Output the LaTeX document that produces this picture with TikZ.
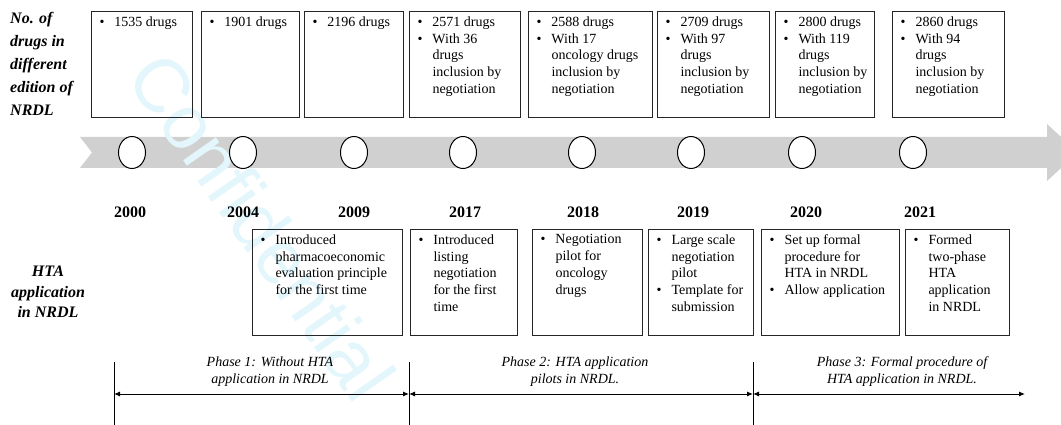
\documentclass[tikz,border=0pt]{standalone}
\usepackage{fontspec}
\setmainfont{Liberation Serif}
\newfontfamily\wmfont{Liberation Sans}
\usetikzlibrary{positioning, shapes.geometric, arrows.meta}

\definecolor{bandgray}{RGB}{208,208,208}
\definecolor{wmcyan}{RGB}{226,246,252}

% bullet line with hanging indent
\newcommand{\bitem}{\par\hangindent=17pt\hangafter=1\noindent\makebox[17pt][l]{\hspace{2pt}\textbullet}}

\begin{document}
\begin{tikzpicture}
		[
		x=1pt, y=-1pt,
		font=\fontsize{14}{16.8}\selectfont
		]
		\useasboundingbox (0,0) rectangle (1061,425);
		\clip (0,0) rectangle (1061,425);
		
		% Styles
		\tikzstyle{drug box}=[draw=black!85, line width=1pt, anchor=north west, inner xsep=6pt, inner ysep=5pt];
		\tikzstyle{year dot}=[ellipse, draw, line width=1pt, fill=white, minimum width=27pt, minimum height=32pt, inner sep=0];
		\tikzstyle{year label}=[font=\bfseries\fontsize{16}{18}\selectfont];
		\tikzstyle{side label}=[font=\bfseries\itshape\fontsize{16}{23}\selectfont, inner sep=0];
		\tikzstyle{phase label}=[align=center, font=\itshape\fontsize{14}{17}\selectfont, inner sep=0];
		\tikzstyle{phase line}=[line width=1pt];
		\tikzstyle{phase arrow}=[line width=1pt, {Latex[length=6pt,width=5pt]}-{Latex[length=6pt,width=5pt]}];
		
		% Time band
		\fill[bandgray] (80,137) -- (1047,137) -- (1047,124) -- (1078,152.5) -- (1047,181) -- (1047,168) -- (80,168) -- (92,152.5) -- cycle;
		
		% Watermark
		\node[rotate=-55, text=wmcyan, font=\wmfont\fontsize{76}{76}\selectfont] (wm) at (262,226) {Confidential};
		
		% Side labels
		\node[side label, anchor=north west, align=left] (nrdl) at (10,12) {No. of\\drugs in\\different\\edition of\\NRDL};
		\node[side label, align=center, font=\bfseries\itshape\fontsize{16}{20.5}\selectfont] (hta) at (48,292) {HTA\\application\\in NRDL};
		
		% No. of drugs
		\node[drug box] (d2000) at (91,11) {\parbox[t][96pt][t]{89pt}{\bitem 1535 drugs}};
		\node[drug box] (d2004) at (201,11) {\parbox[t][96pt][t]{86pt}{\bitem 1901 drugs}};
		\node[drug box] (d2009) at (304,11) {\parbox[t][96pt][t]{87pt}{\bitem 2196 drugs}};
		\node[drug box] (d2017) at (409,11) {\parbox[t][96pt][t]{99pt}{\bitem 2571 drugs\bitem With 36\newline drugs\newline inclusion by\newline negotiation}};
		\node[drug box] (d2018) at (528,11) {\parbox[t][96pt][t]{112pt}{\bitem 2588 drugs\bitem With 17\newline oncology drugs\newline inclusion by\newline negotiation}};
		\node[drug box] (d2019) at (657,11) {\parbox[t][96pt][t]{100pt}{\bitem 2709 drugs\bitem With 97\newline drugs\newline inclusion by\newline negotiation}};
		\node[drug box] (d2020) at (775,11) {\parbox[t][96pt][t]{87pt}{\bitem 2800 drugs\bitem With 119\newline drugs\newline inclusion by\newline negotiation}};
		\node[drug box] (d2021) at (892,11) {\parbox[t][96pt][t]{100pt}{\bitem 2860 drugs\bitem With 94\newline drugs\newline inclusion by\newline negotiation}};
		
		% Years on the band
		\foreach \yr/\x/\lx in {2000/132/130, 2004/243/243, 2009/354/354, 2017/463/465, 2018/582/583, 2019/691/693, 2020/802/806, 2021/913/920}
		{
			\node[year dot] (c\yr) at (\x,152.5) {};
			\node[year label] (y\yr) at (\lx,212) {\yr};
		}
		
		% HTA application
		\node[drug box] (h2009) at (252,229) {\parbox[t][96pt][t]{138pt}{\bitem Introduced\newline pharmacoeconomic\newline evaluation principle\newline for the first time}};
		\node[drug box] (h2017) at (410,229) {\parbox[t][96pt][t]{95pt}{\bitem Introduced\newline listing\newline negotiation\newline for the first\newline time}};
		\node[drug box] (h2018) at (532,229) {\parbox[t][96pt][t]{98pt}{\bitem Negotiation\newline pilot for\newline oncology\newline drugs}};
		\node[drug box] (h2019) at (648,229) {\parbox[t][96pt][t]{93pt}{\bitem Large scale\newline negotiation\newline pilot\bitem Template for\newline submission}};
		\node[drug box] (h2020) at (761,229) {\parbox[t][96pt][t]{126pt}{\bitem Set up formal\newline procedure for\newline HTA in NRDL\bitem Allow application}};
		\node[drug box] (h2021) at (905,229) {\parbox[t][96pt][t]{92pt}{\bitem Formed\newline two-phase\newline HTA\newline application\newline in NRDL}};
		
		% Phases
		\coordinate (s0) at (114,362);
		\coordinate (s1) at (409,362);
		\coordinate (s2) at (753,362);
		\coordinate (e0) at (114,430);
		\coordinate (e1) at (409,430);
		\coordinate (e2) at (753,430);
		\coordinate (a0) at (114,394);
		\coordinate (a1) at (409,394);
		\coordinate (a2) at (753,394);
		\coordinate (a3) at (1025,394);
		\foreach \i in {0,1,2} \draw[phase line] (s\i) -- (e\i);
		\draw[phase arrow] (a0) -- (a1);
		\draw[phase arrow] (a1) -- (a2);
		\draw[phase arrow] (a2) -- (a3);
		\node[phase label] (ph1) at (270,372) {Phase 1: Without HTA\\application in NRDL};
		\node[phase label] (ph2) at (575,372) {Phase 2: HTA application\\pilots in NRDL.};
		\node[phase label] (ph3) at (902,372) {Phase 3: Formal procedure of\\HTA application in NRDL.};
		
\end{tikzpicture}
\end{document}
